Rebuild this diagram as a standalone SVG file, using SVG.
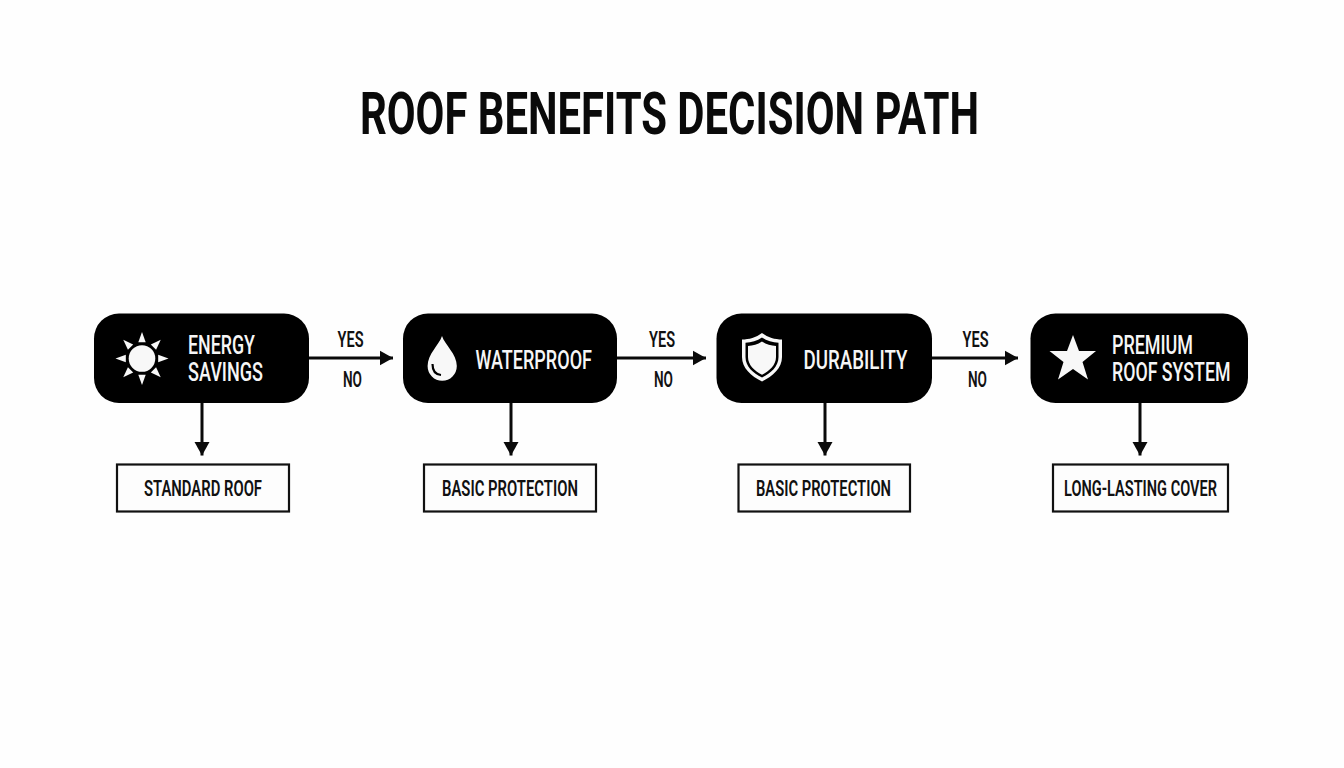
<svg xmlns="http://www.w3.org/2000/svg" width="1344" height="768" viewBox="0 0 1344 768">
<style>
text{font-family:"Roboto","Liberation Sans",sans-serif;font-weight:600}
.title{font-size:59px;fill:#0a0a0a;font-weight:700}
.n{font-size:25.500px;fill:#f6f6f6;font-weight:500}
.l{font-size:22px;fill:#111}
.b{font-size:22px;fill:#111}
.node{fill:#000}
.box{fill:#fdfdfd;stroke:#111;stroke-width:2.2}
.c{stroke:#0a0a0a;stroke-width:3;fill:none;marker-end:url(#a)}
.i{fill:#f8f8f8}
</style>
<defs><marker id="a" markerUnits="userSpaceOnUse" markerWidth="15" markerHeight="17" refX="13.500" refY="8.500" orient="auto"><path d="M0 1L13.500 8.500L0 16Z" fill="#0a0a0a"/></marker></defs>
<rect width="1344" height="768" fill="#fefefe"/>
<text id="title" class="title" x="360" y="133.500" textLength="619" lengthAdjust="spacingAndGlyphs">ROOF BENEFITS DECISION PATH</text>
<g id="connectors">
<path class="c" d="M309 358H393"/><path class="c" d="M617 358H706"/><path class="c" d="M932 358H1018"/>
<path class="c" d="M202 403V455.500"/><path class="c" d="M511 403V455.500"/><path class="c" d="M825 403V455.500"/><path class="c" d="M1140 403V455.500"/>
</g>
<g id="labels">
<text class="l" x="337.500" y="347" textLength="26" lengthAdjust="spacingAndGlyphs">YES</text>
<text class="l" x="343" y="387" textLength="19" lengthAdjust="spacingAndGlyphs">NO</text>
<text class="l" x="649" y="347" textLength="26" lengthAdjust="spacingAndGlyphs">YES</text>
<text class="l" x="654" y="387" textLength="19" lengthAdjust="spacingAndGlyphs">NO</text>
<text class="l" x="962.500" y="347" textLength="26" lengthAdjust="spacingAndGlyphs">YES</text>
<text class="l" x="968" y="387" textLength="19" lengthAdjust="spacingAndGlyphs">NO</text>
</g>
<g id="node-energy">
<rect class="node" x="94" y="313.500" width="215" height="89.500" rx="25"/>
<circle class="i" cx="142" cy="358.500" r="13.300"/>
<g class="i"><path d="M142 332L145.700 342.300H138.300Z"/><path d="M142 332L145.700 342.300H138.300Z" transform="rotate(45 142 358.500)"/><path d="M142 332L145.700 342.300H138.300Z" transform="rotate(90 142 358.500)"/><path d="M142 332L145.700 342.300H138.300Z" transform="rotate(135 142 358.500)"/><path d="M142 332L145.700 342.300H138.300Z" transform="rotate(180 142 358.500)"/><path d="M142 332L145.700 342.300H138.300Z" transform="rotate(225 142 358.500)"/><path d="M142 332L145.700 342.300H138.300Z" transform="rotate(270 142 358.500)"/><path d="M142 332L145.700 342.300H138.300Z" transform="rotate(315 142 358.500)"/></g>
<text class="n" x="188" y="353.500" textLength="67" lengthAdjust="spacingAndGlyphs">ENERGY</text>
<text class="n" x="188" y="381" textLength="75" lengthAdjust="spacingAndGlyphs">SAVINGS</text>
</g>
<g id="node-waterproof">
<rect class="node" x="403" y="313.500" width="214" height="89.500" rx="25"/>
<path class="i" d="M442 336C445 345 456.800 354 456.800 366A14.600 14.800 0 0 1 427.600 366C427.600 354 439 345 442 336Z"/>
<path d="M432.500 364C432.500 370.500 435.500 374.500 441 375" fill="none" stroke="#000" stroke-width="2.200"/>
<text class="n" x="475.500" y="369" textLength="116.500" lengthAdjust="spacingAndGlyphs">WATERPROOF</text>
</g>
<g id="node-durability">
<rect class="node" x="716.500" y="313.500" width="215.500" height="89.500" rx="25"/>
<path class="i" d="M762 333C768 337.500 775 339.500 782 339.500V357C782 368 773 376 762 381.500C751 376 742 368 742 357V339.500C749 339.500 756 337.500 762 333Z"/>
<path d="M762 337.500C767 341 772.500 342.500 778.500 342.800V357C778.500 366.500 771 373 762 377.500C753 373 745.500 366.500 745.500 357V342.800C751.500 342.500 757 341 762 337.500Z" fill="#000"/>
<path class="i" d="M762 341.500C766.500 344.500 771 345.500 776 346V357C776 365 769.500 371 762 374.800C754.500 371 748 365 748 357V346C753 345.500 757.500 344.500 762 341.500Z"/>
<text class="n" x="803.500" y="369" textLength="104" lengthAdjust="spacingAndGlyphs">DURABILITY</text>
</g>
<g id="node-premium">
<rect class="node" x="1030.500" y="313.500" width="217.500" height="89.500" rx="25"/>
<path class="i" d="M1073 335L1079 351H1096L1082.500 362L1088 379.500L1073 369L1058 379.500L1063.500 362L1049.500 351H1067Z"/>
<text class="n" x="1112" y="353.500" textLength="81" lengthAdjust="spacingAndGlyphs">PREMIUM</text>
<text class="n" x="1112" y="381" textLength="118.500" lengthAdjust="spacingAndGlyphs">ROOF SYSTEM</text>
</g>
<g id="box-standard"><rect class="box" x="117" y="464.500" width="172" height="47"/><text class="b" x="144" y="496" textLength="118" lengthAdjust="spacingAndGlyphs">STANDARD ROOF</text></g>
<g id="box-basic-1"><rect class="box" x="424" y="464.500" width="172" height="47"/><text class="b" x="442" y="496" textLength="136" lengthAdjust="spacingAndGlyphs">BASIC PROTECTION</text></g>
<g id="box-basic-2"><rect class="box" x="738.500" y="464.500" width="171.500" height="47"/><text class="b" x="756" y="496" textLength="135" lengthAdjust="spacingAndGlyphs">BASIC PROTECTION</text></g>
<g id="box-cover"><rect class="box" x="1053" y="464.500" width="175" height="47"/><text class="b" x="1064" y="496" textLength="153" lengthAdjust="spacingAndGlyphs">LONG-LASTING COVER</text></g>
</svg>
